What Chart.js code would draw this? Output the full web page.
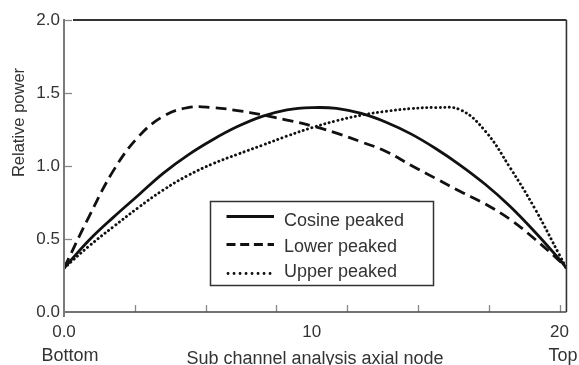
<!DOCTYPE html>
<html>
<head>
<meta charset="utf-8">
<script src="https://cdn.jsdelivr.net/npm/chart.js@4.4.1/dist/chart.umd.min.js"></script>
<style>
  html, body { margin: 0; padding: 0; background: #fff; }
  #wrap { width: 579px; height: 365px; }
</style>
</head>
<body>
<div id="wrap"><canvas id="c" width="579" height="365"></canvas></div>
<script>
// ---- data ----
const nodes = [0, 1, 2, 3, 4, 5, 6, 7, 8, 9, 10, 11, 12, 13, 14, 15, 16, 17, 18, 19, 20, 20.28];
const cosinePeaked = [0.30, 0.49, 0.65, 0.80, 0.95, 1.075, 1.18, 1.27, 1.34, 1.385, 1.40, 1.395, 1.36, 1.30, 1.22, 1.12, 1.005, 0.875, 0.725, 0.55, 0.36, 0.30];
const lowerPeaked  = [0.30, 0.65, 0.97, 1.20, 1.34, 1.40, 1.40, 1.38, 1.35, 1.315, 1.275, 1.225, 1.165, 1.10, 1.005, 0.915, 0.825, 0.74, 0.635, 0.50, 0.35, 0.30];
const upperPeaked  = [0.30, 0.45, 0.585, 0.715, 0.835, 0.935, 1.015, 1.08, 1.142, 1.205, 1.262, 1.31, 1.348, 1.375, 1.393, 1.40, 1.385, 1.24, 0.99, 0.71, 0.39, 0.30];
const seriesNames = ['Cosine peaked', 'Lower peaked', 'Upper peaked'];
const xTickLabels = ['0.0', '10', '20'];
const xTickValues = [0, 10, 20];
const yTickValues = [0, 0.5, 1.0, 1.5, 2.0];
const xMinorTicks = [1, 2, 3, 4, 5, 6, 7].map(k => k * 20 / 7);
const yTitle = 'Relative power';
const xTitle = 'Sub channel analysis axial node';
const xEndLabels = ['Bottom', 'Top'];

const INK = '#111';
const TXT = '#333';
const FONT = '"Liberation Sans", Arial, Helvetica, sans-serif';

function pts(arr) { return nodes.map((n, i) => ({ x: n, y: arr[i] })); }

const styles = [
  { borderDash: [], borderWidth: 2.8, borderCapStyle: 'butt' },
  { borderDash: [11, 6], borderWidth: 2.8, borderCapStyle: 'butt' },
  { borderDash: [0.1, 4.4], borderWidth: 2.9, borderCapStyle: 'round' }
];
const seriesData = [cosinePeaked, lowerPeaked, upperPeaked];

const datasets = seriesNames.map((name, i) => Object.assign({
  label: name,
  data: pts(seriesData[i]),
  borderColor: INK,
  backgroundColor: INK,
  pointRadius: 0,
  fill: false,
  tension: 0.4
}, styles[i]));

const framePlugin = {
  id: 'frame',
  afterDatasetsDraw(chart) {
    const ctx = chart.ctx;
    const a = chart.chartArea;
    const xs = chart.scales.x, ys = chart.scales.y;
    ctx.save();
    // inner tick marks
    ctx.strokeStyle = '#888';
    ctx.lineWidth = 1.3;
    xMinorTicks.forEach(v => {
      const px = Math.round(xs.getPixelForValue(v)) + 0.5;
      ctx.beginPath(); ctx.moveTo(px, a.bottom); ctx.lineTo(px, a.bottom - 7); ctx.stroke();
    });
    yTickValues.slice(1).forEach(v => {
      const py = Math.round(ys.getPixelForValue(v)) + 0.5;
      ctx.beginPath(); ctx.moveTo(a.left, py); ctx.lineTo(a.left + 8, py); ctx.stroke();
    });
    // frame
    ctx.strokeStyle = '#333';
    ctx.lineWidth = 2;
    ctx.beginPath(); ctx.moveTo(a.left + 9, a.top); ctx.lineTo(a.right, a.top); ctx.stroke();
    ctx.lineWidth = 1.6;
    ctx.beginPath(); ctx.moveTo(a.right, a.top); ctx.lineTo(a.right, a.bottom); ctx.stroke();
    ctx.strokeStyle = '#444';
    ctx.lineWidth = 1.6;
    ctx.beginPath(); ctx.moveTo(a.left, a.bottom); ctx.lineTo(a.right, a.bottom); ctx.stroke();
    ctx.strokeStyle = '#7a7a7a';
    ctx.lineWidth = 2;
    ctx.beginPath(); ctx.moveTo(a.left, a.top - 1); ctx.lineTo(a.left, a.bottom + 5); ctx.stroke();

    // legend
    const bx = 210.5, by = 201.5, bw = 223, bh = 84;
    ctx.fillStyle = '#fff';
    ctx.fillRect(bx, by, bw, bh);
    ctx.strokeStyle = '#333';
    ctx.lineWidth = 1.5;
    ctx.strokeRect(bx, by, bw, bh);
    const rowLineY = [216.5, 244.5, 273.5];
    const rowTextY = [226, 252, 277];
    const legDash = [[], [9, 4.7], [0.1, 5.9]];
    chart.data.datasets.forEach((ds, i) => {
      ctx.strokeStyle = INK;
      ctx.lineWidth = i === 2 ? 2.8 : 3;
      ctx.lineCap = i === 2 ? 'round' : 'butt';
      ctx.setLineDash(legDash[i]);
      ctx.beginPath();
      ctx.moveTo(i === 2 ? 228 : 226.5, rowLineY[i]);
      ctx.lineTo(274, rowLineY[i]);
      ctx.stroke();
      ctx.setLineDash([]);
      ctx.lineCap = 'butt';
      ctx.fillStyle = TXT;
      ctx.font = '18px ' + FONT;
      ctx.textAlign = 'left';
      ctx.textBaseline = 'alphabetic';
      ctx.fillText(ds.label, 284, rowTextY[i]);
    });

    // titles
    ctx.fillStyle = TXT;
    ctx.font = '18px ' + FONT;
    ctx.textAlign = 'center';
    ctx.textBaseline = 'alphabetic';
    ctx.fillText(xEndLabels[0], 70, 361);
    ctx.fillText(xEndLabels[1], 563, 361);
    ctx.fillText(xTitle, 315, 364);
    ctx.save();
    ctx.translate(24, 122.5);
    ctx.rotate(-Math.PI / 2);
    ctx.font = '16.5px ' + FONT;
    ctx.fillText(yTitle, 0, 0);
    ctx.restore();
    ctx.restore();
  }
};

new Chart(document.getElementById('c'), {
  type: 'line',
  data: { datasets },
  options: {
    responsive: false,
    animation: false,
    devicePixelRatio: 1,
    layout: { padding: { left: 0, right: 3, top: 20, bottom: 0 } },
    plugins: { legend: { display: false }, tooltip: { enabled: false } },
    scales: {
      x: {
        type: 'linear',
        min: 0,
        max: 20.28,
        grid: { display: false, drawTicks: false },
        border: { display: false },
        afterFit(s) { s.height = 53; },
        afterBuildTicks(s) { s.ticks = xTickValues.map(v => ({ value: v })); },
        ticks: {
          autoSkip: false,
          maxRotation: 0,
          padding: 10,
          color: TXT,
          font: { family: FONT, size: 17 },
          callback(v) { const i = xTickValues.indexOf(v); return i >= 0 ? xTickLabels[i] : ''; }
        }
      },
      y: {
        min: 0,
        max: 2,
        grid: { display: false, drawTicks: false },
        border: { display: false },
        afterFit(s) { s.width = 64; },
        afterBuildTicks(s) { s.ticks = yTickValues.map(v => ({ value: v })); },
        ticks: {
          padding: 4,
          color: TXT,
          font: { family: FONT, size: 17 },
          callback(v) { return Number(v).toFixed(1); }
        }
      }
    }
  },
  plugins: [framePlugin]
});
</script>
</body>
</html>
